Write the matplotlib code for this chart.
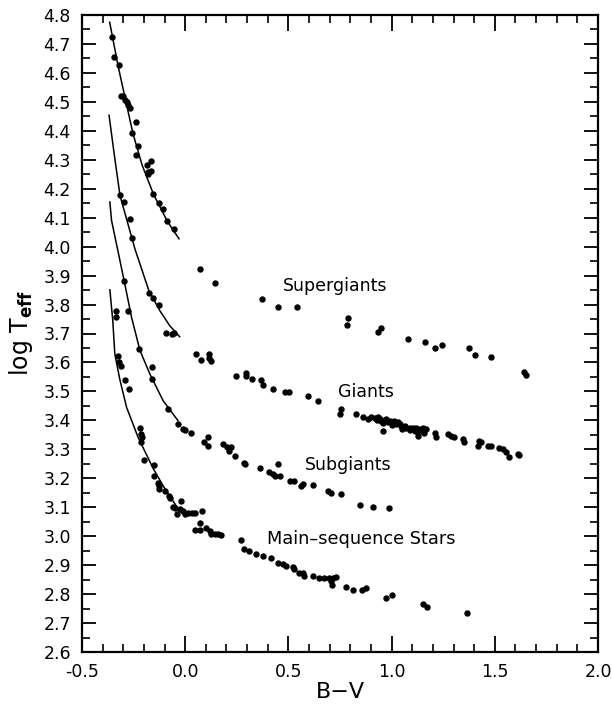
import numpy as np
import matplotlib
matplotlib.use("Agg")
import matplotlib.pyplot as plt
from matplotlib.ticker import MultipleLocator

plt.rcParams['font.family'] = ['DejaVu Sans']
plt.rcParams['mathtext.default'] = 'regular'

# supergiants (B-V, log Teff)
sg_bv = [-0.354, -0.344, -0.321, -0.312, -0.303, -0.292, -0.284, -0.276, -0.268, -0.239,
         -0.260, -0.228, -0.239, -0.187, -0.168, -0.180, -0.168, -0.180, -0.156, -0.127,
         -0.107, -0.088, -0.056, 0.073, 0.143, 0.371, 0.452, 0.540, 0.790, 0.782,
         0.948, 0.932, 1.081, 1.162, 1.210, 1.242, 1.373, 1.403, 1.484, 1.643, 1.653]
sg_t = [4.725, 4.656, 4.627, 4.521, 4.521, 4.508, 4.500, 4.489, 4.479, 4.429,
        4.393, 4.347, 4.316, 4.281, 4.295, 4.258, 4.261, 4.250, 4.183, 4.151,
        4.129, 4.087, 4.062, 3.924, 3.876, 3.820, 3.793, 3.793, 3.754, 3.731,
        3.719, 3.704, 3.681, 3.670, 3.650, 3.662, 3.649, 3.626, 3.620, 3.566, 3.557]

# giants
g_bv = [-0.316, -0.296, -0.268, -0.257, -0.176, -0.156, -0.127, -0.094, -0.062, -0.052,
        0.054, 0.075, 0.115, 0.115, 0.126, 0.247, 0.295, 0.295, 0.324, 0.365,
        0.376, 0.424, 0.484, 0.501, 0.593, 0.645, 0.754, 0.749, 0.826, 0.861,
        0.886, 0.902, 0.918, 0.934, 0.942, 0.950, 0.966, 0.982, 0.990, 1.006,
        1.014, 1.023, 1.039, 1.047, 1.063, 1.071, 1.087, 1.103, 1.111, 1.119,
        1.135, 1.143, 1.151, 1.159, 1.168, 1.127, 0.958, 0.930, 0.960, 1.000,
        1.050, 1.090, 1.130, 0.975, 1.030, 1.208, 1.216, 1.272, 1.288, 1.304,
        1.345, 1.353, 1.425, 1.433, 1.417, 1.465, 1.482, 1.522, 1.538, 1.554,
        1.567, 1.610, 1.618]
g_t = [4.180, 4.154, 4.097, 4.030, 3.840, 3.822, 3.797, 3.701, 3.699, 3.703,
       3.629, 3.609, 3.629, 3.614, 3.606, 3.552, 3.564, 3.552, 3.543, 3.539,
       3.523, 3.510, 3.499, 3.499, 3.485, 3.468, 3.439, 3.422, 3.422, 3.410,
       3.404, 3.410, 3.407, 3.413, 3.404, 3.399, 3.402, 3.393, 3.399, 3.393,
       3.399, 3.387, 3.387, 3.381, 3.381, 3.375, 3.375, 3.373, 3.364, 3.375,
       3.370, 3.364, 3.375, 3.358, 3.370, 3.347, 3.364, 3.400, 3.392, 3.385,
       3.370, 3.365, 3.360, 3.405, 3.395, 3.358, 3.344, 3.353, 3.347, 3.341,
       3.335, 3.324, 3.329, 3.326, 3.310, 3.312, 3.310, 3.306, 3.301, 3.291,
       3.275, 3.283, 3.280]

# subgiants
sub_bv = [-0.296, -0.276, -0.224, -0.163, -0.163, -0.083, -0.035, -0.010, -0.002, 0.030,
          0.091, 0.110, 0.110, 0.182, 0.201, 0.221, 0.210, 0.242, 0.287, 0.290,
          0.360, 0.408, 0.424, 0.437, 0.457, 0.449, 0.510, 0.527, 0.561, 0.569,
          0.617, 0.690, 0.706, 0.754, 0.848, 0.911, 0.988]
sub_t = [3.881, 3.777, 3.647, 3.584, 3.543, 3.439, 3.389, 3.370, 3.367, 3.358,
         3.327, 3.312, 3.344, 3.318, 3.309, 3.309, 3.295, 3.277, 3.254, 3.250,
         3.237, 3.220, 3.214, 3.208, 3.208, 3.249, 3.191, 3.191, 3.174, 3.180,
         3.177, 3.156, 3.150, 3.147, 3.108, 3.102, 3.099]

# main-sequence stars
ms_bv = [-0.336, -0.336, -0.325, -0.320, -0.312, -0.292, -0.272, -0.220, -0.212, -0.209,
         -0.212, -0.199, -0.151, -0.151, -0.131, -0.128, -0.127, -0.099, -0.080, -0.075,
         -0.059, -0.051, -0.040, -0.019, -0.027, -0.011, -0.002, 0.014, 0.032, 0.048,
         0.083, 0.073, 0.046, 0.073, 0.102, 0.118, 0.126, 0.142, 0.158, 0.174,
         0.272, 0.284, 0.308, 0.344, 0.376, 0.417, 0.448, 0.473, 0.489, 0.521,
         0.529, 0.553, 0.569, 0.577, 0.617, 0.650, 0.674, 0.698, 0.714, 0.730,
         0.706, 0.709, 0.781, 0.811, 0.856, 0.878, 0.971, 1.004, 1.152, 1.173, 1.363]
ms_t = [3.779, 3.756, 3.624, 3.600, 3.589, 3.539, 3.508, 3.373, 3.353, 3.341,
        3.324, 3.263, 3.246, 3.208, 3.185, 3.174, 3.162, 3.156, 3.139, 3.131,
        3.101, 3.097, 3.076, 3.122, 3.093, 3.087, 3.076, 3.079, 3.079, 3.079,
        3.087, 3.047, 3.022, 3.022, 3.027, 3.018, 3.009, 3.007, 3.009, 3.004,
        2.986, 2.957, 2.949, 2.937, 2.931, 2.926, 2.909, 2.903, 2.897, 2.892,
        2.886, 2.874, 2.874, 2.862, 2.862, 2.857, 2.854, 2.857, 2.857, 2.860,
        2.845, 2.831, 2.826, 2.814, 2.814, 2.820, 2.786, 2.797, 2.765, 2.756, 2.735]

# fitted curves
c_sg_bv = [-0.366, -0.351, -0.324, -0.287, -0.253, -0.208, -0.153, -0.086, -0.030]
c_sg_t = [4.775, 4.720, 4.620, 4.500, 4.390, 4.280, 4.180, 4.087, 4.027]
c_g_bv = [-0.369, -0.344, -0.316, -0.244, -0.176, -0.123, -0.075, -0.027]
c_g_t = [4.454, 4.320, 4.177, 3.993, 3.848, 3.779, 3.727, 3.689]
c_sub_bv = [-0.365, -0.357, -0.296, -0.260, -0.219, -0.171, -0.107, -0.035]
c_sub_t = [4.154, 4.091, 3.883, 3.756, 3.641, 3.560, 3.468, 3.399]
c_ms_bv = [-0.365, -0.351, -0.341, -0.316, -0.284, -0.228, -0.156, -0.107, -0.043]
c_ms_t = [3.851, 3.746, 3.629, 3.539, 3.445, 3.341, 3.235, 3.174, 3.104]

fig = plt.figure(figsize=(6.12, 7.09), dpi=100)
ax = fig.add_axes([82 / 612, 1 - 652 / 709, (598 - 82) / 612, (652 - 15) / 709])

for cx, cy in [(c_sg_bv, c_sg_t), (c_g_bv, c_g_t), (c_sub_bv, c_sub_t), (c_ms_bv, c_ms_t)]:
    ax.plot(cx, cy, color='k', lw=1.1)

for bx, ty in [(sg_bv, sg_t), (g_bv, g_t), (sub_bv, sub_t), (ms_bv, ms_t)]:
    ax.plot(bx, ty, 'o', color='k', ms=4.6, mec='none')

ax.text(0.474, 3.848, 'Supergiants', fontsize=12.5)
ax.text(0.740, 3.482, 'Giants', fontsize=12.5)
ax.text(0.580, 3.228, 'Subgiants', fontsize=12.5)
ax.text(0.395, 2.973, 'Main\u2013sequence Stars', fontsize=12.8)

ax.set_xlim(-0.5, 2.0)
ax.set_ylim(2.6, 4.8)
ax.xaxis.set_major_locator(MultipleLocator(0.5))
ax.xaxis.set_minor_locator(MultipleLocator(0.1))
ax.yaxis.set_major_locator(MultipleLocator(0.1))
ax.yaxis.set_minor_locator(MultipleLocator(0.05))
ax.xaxis.set_major_formatter(matplotlib.ticker.FormatStrFormatter('%.1f'))
ax.yaxis.set_major_formatter(matplotlib.ticker.FormatStrFormatter('%.1f'))

ax.tick_params(which='both', direction='in', top=True, right=True, labelsize=12.5)
ax.tick_params(which='major', length=11.5, width=1.3)
ax.tick_params(which='minor', length=6, width=1.2)
ax.tick_params(axis='y', which='major', length=10, pad=8)
ax.tick_params(axis='x', which='major', pad=8)
for s in ax.spines.values():
    s.set_linewidth(1.6)

ax.set_xlabel('B\u2212V', fontsize=16, labelpad=1)
ax.set_ylabel(r'log T$_{\bf eff}$', fontsize=17, labelpad=6)

fig.savefig('out.png', dpi=100)
